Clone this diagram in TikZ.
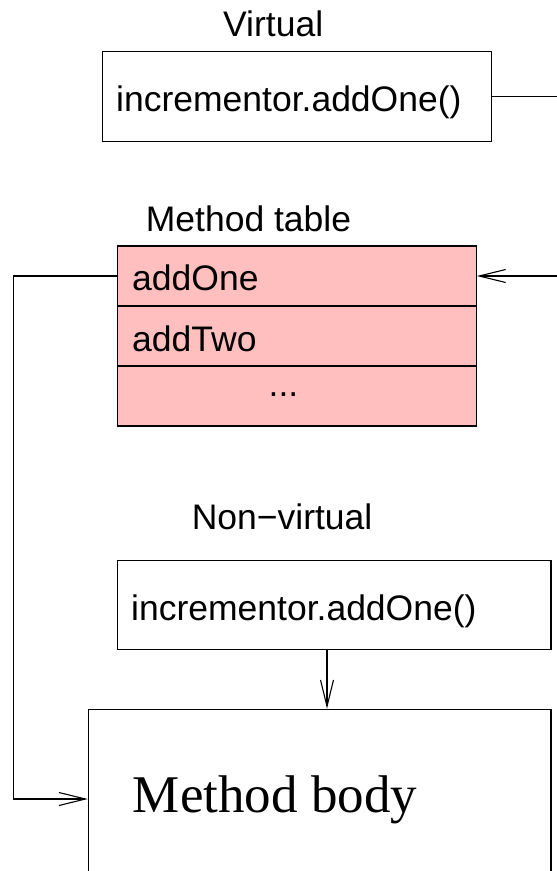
\documentclass[tikz,border=0pt]{standalone}
\usepackage{fontspec}
\setmainfont{Liberation Sans}
\newfontfamily\serifbody{Liberation Serif}
\usetikzlibrary{arrows.meta}
\definecolor{tabpink}{RGB}{255,191,191}
\tikzset{
  box/.style={draw, line width=1.1pt, inner sep=0pt, rectangle},
  rowbox/.style={box, fill=tabpink, minimum width=359pt},
  txt/.style={inner sep=0pt, font=\fontsize{35.5}{42}\selectfont},
  conn/.style={line width=1.1pt},
  arr/.style={conn, -{Straight Barb[length=26.5pt, width=13pt, line width=1.1pt]}}
}
\begin{document}
\begin{tikzpicture}[x=1pt, y=-1pt]
\useasboundingbox (0,0) rectangle (557,871);
\clip (0,0) rectangle (557,871);

% Virtual call
\node[txt, anchor=base west] (vlab) at (223,36.7) {Virtual};
\node[box, minimum width=388.6pt, minimum height=90pt] (vbox) at (297,96.7) {};
\node[txt, anchor=base west] (vtext) at (116,111.7) {incrementor.addOne()};

% Method table
\node[txt, anchor=base west] (mtlab) at (145.7,231) {Method table};
\node[rowbox, minimum height=60pt] (r1) at (296.8,276) {};
\node[rowbox, minimum height=60pt] (r2) at (296.8,336) {};
\node[rowbox, minimum height=60pt] (r3) at (296.8,396) {};
\node[txt, anchor=base west] (t1) at (132,290.7) {addOne};
\node[txt, anchor=base west] (t2) at (132,351) {addTwo};
\node[txt, anchor=base] (t3) at (283.5,396) {...};

% Non-virtual call
\node[txt, anchor=base west] (nvlab) at (191.6,529.3) {Non−virtual};
\node[box, minimum width=433.3pt, minimum height=88.6pt] (nvbox) at (334.35,605) {};
\node[txt, anchor=base west] (nvtext) at (131,620.7) {incrementor.addOne()};

% Method body
\node[box, minimum width=462.7pt, minimum height=179.4pt] (mbody) at (319.65,799) {};
\node[inner sep=0pt, anchor=base west, font=\serifbody\fontsize{53}{64}\selectfont] (mbtext) at (132.7,812) {Method body};

% Connectors
\draw[arr] (vbox.east) -- ++(120,0) |- (r1.east);
\draw[arr] (r1.west) -- (13.3,276) |- (mbody.west);
\draw[arr] ([xshift=-7.35pt]nvbox.south) -- ([xshift=-7.35pt]nvbox.south |- mbody.north);
\end{tikzpicture}
\end{document}
